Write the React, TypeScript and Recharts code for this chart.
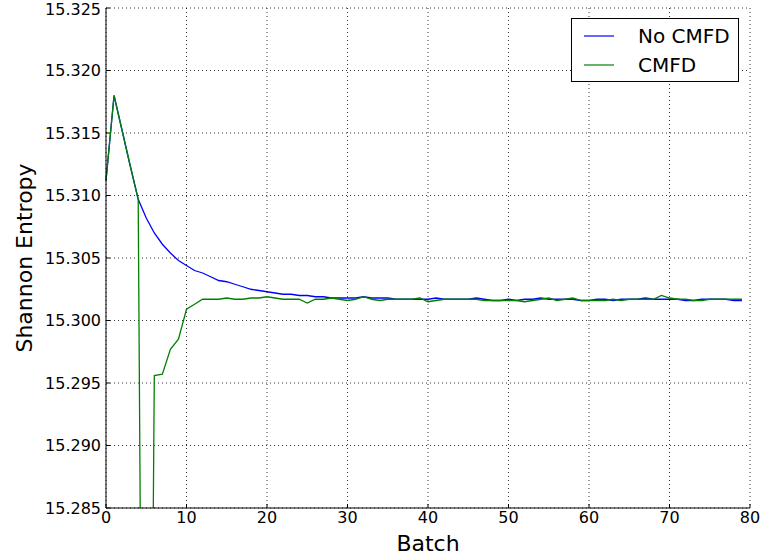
import {
  LineChart,
  Line,
  XAxis,
  YAxis,
  CartesianGrid,
} from "recharts";

const batches = Array.from({ length: 80 }, (_, i) => i);

const noCmfd = [
  15.3112, 15.318, 15.3152, 15.3124, 15.3097, 15.3082, 15.307, 15.3061, 15.3054, 15.3048,
  15.3044, 15.304, 15.3038, 15.3035, 15.3032, 15.3031, 15.3029, 15.3027, 15.3025, 15.3024,
  15.3023, 15.3022, 15.3021, 15.3021, 15.302, 15.302, 15.3019, 15.3019, 15.3018, 15.3018,
  15.3018, 15.3018, 15.3019, 15.3018, 15.3018, 15.3018, 15.3017, 15.3017, 15.3017, 15.3017,
  15.3017, 15.3018, 15.3017, 15.3017, 15.3017, 15.3017, 15.3018, 15.3017, 15.3016, 15.3016,
  15.3017, 15.3016, 15.3017, 15.3017, 15.3018, 15.3017, 15.3017, 15.3017, 15.3017, 15.3016,
  15.3016, 15.3017, 15.3017, 15.3016, 15.3017, 15.3017, 15.3017, 15.3018, 15.3017, 15.3017,
  15.3017, 15.3017, 15.3016, 15.3016, 15.3017, 15.3017, 15.3017, 15.3017, 15.3016, 15.3016,
];

const cmfd = [
  15.3112, 15.318, 15.3152, 15.3124, 15.3097, 15.21, 15.2956, 15.2957, 15.2977, 15.2985,
  15.3009, 15.3013, 15.3017, 15.3017, 15.3017, 15.3018, 15.3017, 15.3017, 15.3018, 15.3018,
  15.3019, 15.3018, 15.3017, 15.3017, 15.3017, 15.3014, 15.3017, 15.3017, 15.3018, 15.3017,
  15.3016, 15.3017, 15.3019, 15.3017, 15.3016, 15.3017, 15.3017, 15.3017, 15.3017, 15.3018,
  15.3015, 15.3016, 15.3017, 15.3017, 15.3017, 15.3017, 15.3017, 15.3016, 15.3016, 15.3016,
  15.3016, 15.3016, 15.3015, 15.3016, 15.3017, 15.3018, 15.3016, 15.3017, 15.3018, 15.3016,
  15.3016, 15.3016, 15.3016, 15.3017, 15.3016, 15.3017, 15.3017, 15.3017, 15.3017, 15.302,
  15.3018, 15.3017, 15.3017, 15.3016, 15.3016, 15.3017, 15.3017, 15.3017, 15.3017, 15.3017,
];

const xTicks = [0, 10, 20, 30, 40, 50, 60, 70, 80];
const yTicks = [15.285, 15.29, 15.295, 15.3, 15.305, 15.31, 15.315, 15.32, 15.325];

const data = batches.map((b, i) => ({ batch: b, noCmfd: noCmfd[i], cmfd: cmfd[i] }));

const font = "DejaVu Sans";

function LegendBox() {
  return (
    <svg
      width={169}
      height={64}
      style={{ position: "absolute", left: 571, top: 18 }}
    >
      <rect x={0.5} y={0.5} width={167} height={63} fill="#fff" stroke="#000" />
      <line x1={13} x2={43} y1={18} y2={18} stroke="#0000ff" strokeWidth={1.2} />
      <text x={67} y={18} dominantBaseline="central" fontFamily={font} fontSize={20}>
        No CMFD
      </text>
      <line x1={13} x2={43} y1={47} y2={47} stroke="#008000" strokeWidth={1.2} />
      <text x={67} y={47} dominantBaseline="central" fontFamily={font} fontSize={20}>
        CMFD
      </text>
    </svg>
  );
}

export default function App() {
  const tickStyle = { fontFamily: font, fontSize: 16, fill: "#000" };
  return (
    <div style={{ position: "absolute", left: 0, top: 0, width: 761, height: 558, background: "#fff" }}>
      <LineChart
        width={761}
        height={558}
        data={data}
        margin={{ top: 8, right: 11, left: 0, bottom: 0 }}
      >
        <CartesianGrid stroke="#000" strokeDasharray="1 3" strokeWidth={0.8} />
        <XAxis
          dataKey="batch"
          type="number"
          domain={[0, 80]}
          ticks={xTicks}
          height={50}
          stroke="#000"
          tickSize={-4}
          tickMargin={8}
          tick={tickStyle}
          label={{
            content: () => (
              <text x={428} y={543} textAnchor="middle" dominantBaseline="central" fontFamily={font} fontSize={22}>
                Batch
              </text>
            ),
          }}
        />
        <XAxis
          xAxisId="top"
          orientation="top"
          dataKey="batch"
          type="number"
          domain={[0, 80]}
          ticks={xTicks}
          height={0}
          stroke="#000"
          tickSize={-4}
          tick={false}
        />
        <YAxis
          domain={[15.285, 15.325]}
          ticks={yTicks}
          allowDataOverflow
          width={106}
          stroke="#000"
          tickSize={-4}
          tickMargin={9}
          tick={tickStyle}
          tickFormatter={(v: number) => v.toFixed(3)}
          label={{
            content: () => (
              <text
                x={24}
                y={258}
                textAnchor="middle"
                dominantBaseline="central"
                transform="rotate(-90, 24, 258)"
                fontFamily={font}
                fontSize={22}
              >
                Shannon Entropy
              </text>
            ),
          }}
        />
        <YAxis
          yAxisId="right"
          orientation="right"
          domain={[15.285, 15.325]}
          ticks={yTicks}
          width={0}
          stroke="#000"
          tickSize={-4}
          tick={false}
        />
        <Line
          dataKey="noCmfd"
          stroke="#0000ff"
          strokeWidth={1.3}
          dot={false}
          type="linear"
          isAnimationActive={false}
        />
        <Line
          dataKey="cmfd"
          stroke="#008000"
          strokeWidth={1.3}
          dot={false}
          type="linear"
          isAnimationActive={false}
        />
      </LineChart>
      <LegendBox />
    </div>
  );
}
